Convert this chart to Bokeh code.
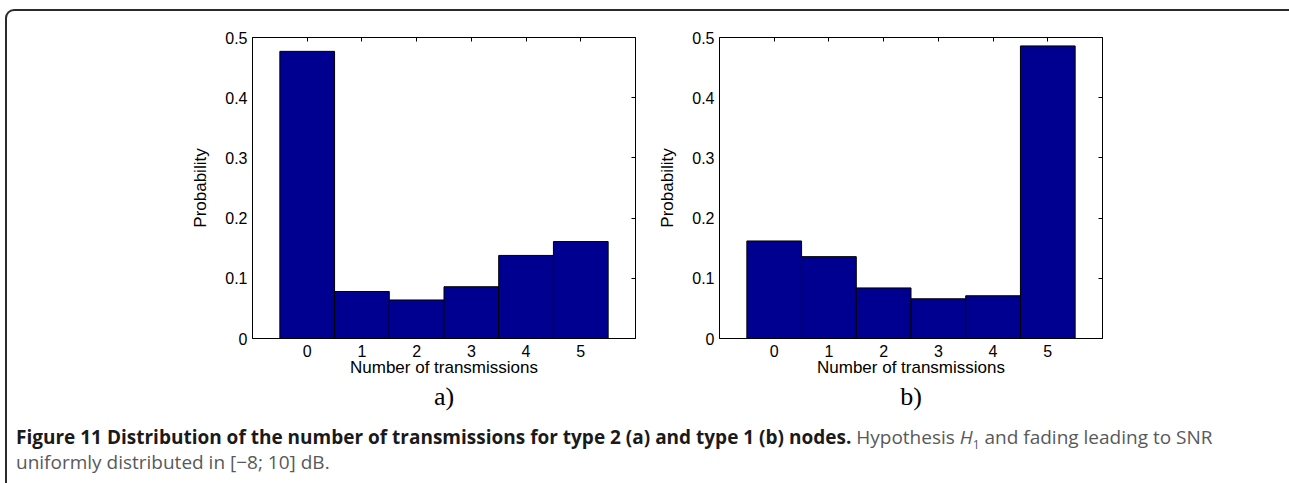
from bokeh.plotting import figure
from bokeh.models import FixedTicker, LinearAxis, Div, Range1d, Spacer
from bokeh.layouts import row, column
from bokeh.embed import file_html
from bokeh.resources import INLINE

# ---- data ----
transmissions = [0, 1, 2, 3, 4, 5]
prob_type2 = [0.477, 0.078, 0.064, 0.086, 0.138, 0.161]   # panel a)
prob_type1 = [0.162, 0.136, 0.084, 0.066, 0.071, 0.486]   # panel b)
y_ticks = [0, 0.1, 0.2, 0.3, 0.4, 0.5]
y_tick_labels = ["0", "0.1", "0.2", "0.3", "0.4", "0.5"]
right_ticks = [0.1, 0.2, 0.3, 0.4]
panel_titles = ["a)", "b)"]
x_label = "Number of transmissions"
y_label = "Probability"

BAR = "#000090"
SANS = "Liberation Sans"


def make_panel(title, probs, w, h, mbl, mbr, mbt, mbb):
    p = figure(width=w, height=h, x_range=Range1d(-1, 6), y_range=Range1d(0, 0.5),
               output_backend="svg", toolbar_location=None,
               title=title, title_location="below",
               min_border_left=mbl, min_border_right=mbr,
               min_border_top=mbt, min_border_bottom=mbb)
    p.vbar(x=transmissions, top=probs, width=1.0, bottom=0,
           fill_color=BAR, line_color="black", line_width=1)
    p.grid.visible = False
    p.outline_line_color = "black"
    p.background_fill_color = "white"
    p.border_fill_color = None

    xa = p.xaxis[0]
    xa.ticker = FixedTicker(ticks=transmissions)
    xa.major_tick_in = 0
    xa.major_tick_out = 0
    xa.minor_tick_line_color = None
    xa.major_label_standoff = 6
    xa.axis_label = x_label
    xa.axis_label_standoff = -2

    ya = p.yaxis[0]
    ya.ticker = FixedTicker(ticks=y_ticks)
    ya.major_label_overrides = {t: l for t, l in zip(y_ticks, y_tick_labels)}
    ya.major_tick_in = 0
    ya.major_tick_out = 0
    ya.minor_tick_line_color = None
    ya.major_label_standoff = 5
    ya.axis_label = y_label
    ya.axis_label_standoff = 12

    for ax in (xa, ya):
        ax.axis_line_color = "black"
        ax.major_label_text_font = SANS
        ax.major_label_text_font_size = "16px"
        ax.major_label_text_color = "black"
        ax.axis_label_text_font = SANS
        ax.axis_label_text_font_size = "17px"
        ax.axis_label_text_font_style = "normal"
        ax.axis_label_text_color = "black"

    top = LinearAxis(ticker=FixedTicker(ticks=transmissions),
                     major_label_overrides={t: "" for t in transmissions},
                     major_tick_in=4, major_tick_out=0,
                     minor_tick_line_color=None, axis_line_color="black",
                     major_label_standoff=0, major_label_text_font_size="1px")
    right = LinearAxis(ticker=FixedTicker(ticks=right_ticks),
                       major_label_overrides={t: "" for t in right_ticks},
                       major_tick_in=4, major_tick_out=0,
                       minor_tick_line_color=None, axis_line_color="black",
                       major_label_standoff=0, major_label_text_font_size="1px")
    p.add_layout(top, "above")
    p.add_layout(right, "right")

    p.title.text_font = "Liberation Serif"
    p.title.text_font_size = "26px"
    p.title.text_font_style = "normal"
    p.title.text_color = "black"
    p.title.align = "center"
    p.title.standoff = 0
    return p


pa = make_panel(panel_titles[0], prob_type2, 648, 414, 245, 20, 26, 84)
pb = make_panel(panel_titles[1], prob_type1, 477, 414, 63, 30, 25, 87)

caption_html = (
    '<b style="color:#1a1a1a">Figure 11 Distribution of the number of transmissions '
    'for type 2 (a) and type 1 (b) nodes.</b> '
    'Hypothesis <i>H</i><sub style="font-size:12px; line-height:0">1</sub> '
    'and fading leading to SNR<br>'
    'uniformly distributed in [\u22128; 10] dB.'
)
cap = Div(text=caption_html, width=1278, height=54,
          styles={"font-family": "Open Sans", "font-size": "19px",
                  "color": "#58595b", "line-height": "25px",
                  "margin-top": "0px", "padding-left": "4px"})

framed = column(row(pa, pb), cap,
                styles={"border-top": "2px solid #2b2b2b",
                        "border-left": "2px solid #2b2b2b",
                        "border-right": "2px solid #2b2b2b",
                        "border-radius": "9px 9px 0 0",
                        "background": "white"})

layout = column(Spacer(height=9), row(Spacer(width=5), framed))

open("out.html", "w").write(file_html(layout, INLINE))
